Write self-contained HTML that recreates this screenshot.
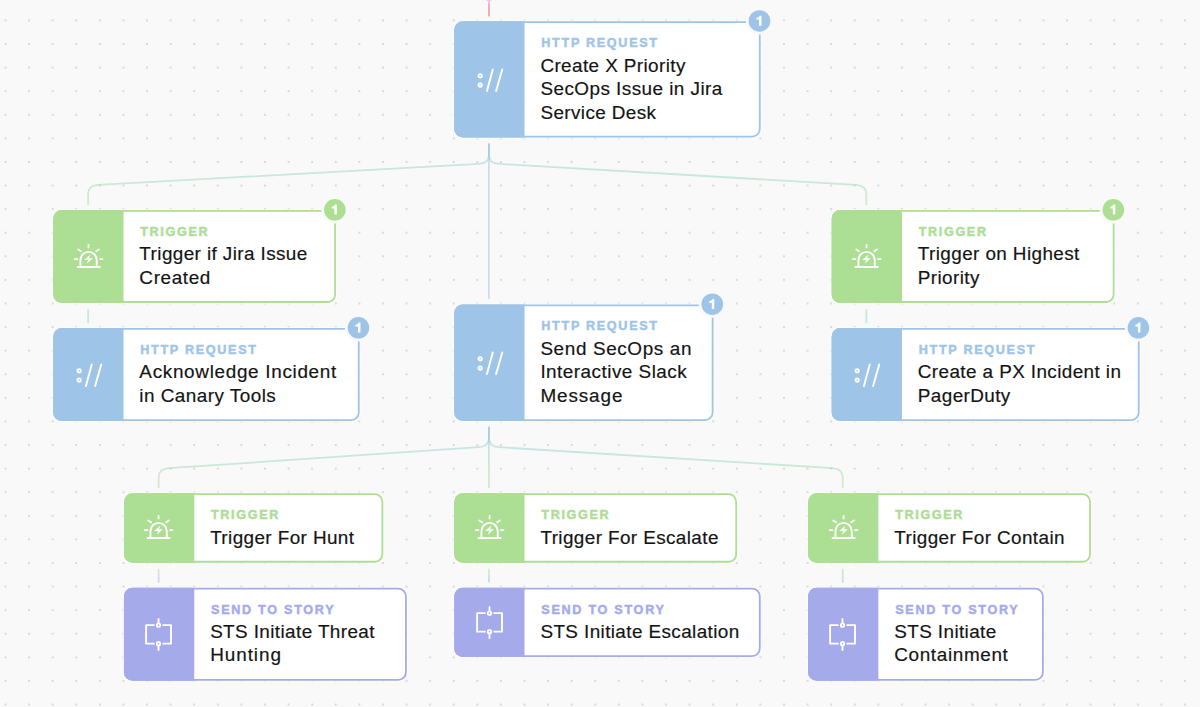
<!DOCTYPE html>
<html><head><meta charset="utf-8"><title>Story</title><style>

*{margin:0;padding:0;box-sizing:border-box}
html,body{width:1200px;height:707px;overflow:hidden;background:#f9f9f9;font-family:"Liberation Sans",sans-serif}
#bg,#wires,#shapes{position:absolute;left:0;top:0;width:1200px;height:707px}
.n{position:absolute;border:2px solid transparent;}
.n .blk{position:absolute;left:-2px;top:-2px;bottom:-2px;width:70.3px;}
.n .ic{position:absolute;left:50%;top:50%;margin-left:-14.6px;margin-top:-14.55px} .sts .ic{margin-left:-14.85px;margin-top:-16.85px}
.n .lb{position:absolute;left:85.1px;top:13.2px;font-size:12.6px;line-height:15px;font-weight:bold;letter-spacing:1.65px;white-space:nowrap;-webkit-text-stroke:0.45px}
.n .tt{position:absolute;left:84.2px;top:30.5px;font-size:18.9px;line-height:23.59px;color:#141414;white-space:nowrap;letter-spacing:0.4px;-webkit-text-stroke:0.18px}
.http .lb{color:#9ec4e8}
.trig .lb{color:#acde93}
.sts .lb{color:#a5abea;letter-spacing:1.72px} .http .lb{letter-spacing:1.7px}

</style></head><body>
<svg id="bg" width="1200" height="707" viewBox="0 0 1200 707"><defs><pattern id="dots" x="-6.295" y="8.605" width="23.59" height="23.59" patternUnits="userSpaceOnUse"><circle cx="11.795" cy="11.795" r="1.08" fill="#d1d1d1"/></pattern></defs><rect width="1200" height="707" fill="#f9f9f9"/><rect width="1200" height="707" fill="url(#dots)"/></svg>
<svg id="wires" width="1200" height="707" viewBox="0 0 1200 707"><defs><linearGradient id="g1" gradientUnits="userSpaceOnUse" x1="0" y1="143.4" x2="0" y2="205.1"><stop offset="0" stop-color="#9ec4e8"/><stop offset="0.5" stop-color="#96d6c0"/><stop offset="1" stop-color="#acde93"/></linearGradient><linearGradient id="g2" gradientUnits="userSpaceOnUse" x1="0" y1="143.4" x2="0" y2="205.1"><stop offset="0" stop-color="#9ec4e8"/><stop offset="0.5" stop-color="#96d6c0"/><stop offset="1" stop-color="#acde93"/></linearGradient><linearGradient id="g3" gradientUnits="userSpaceOnUse" x1="0" y1="143.4" x2="0" y2="298.7"><stop offset="0" stop-color="#9ec4e8"/><stop offset="0.5" stop-color="#9ec4e8"/><stop offset="1" stop-color="#9ec4e8"/></linearGradient><linearGradient id="g4" gradientUnits="userSpaceOnUse" x1="0" y1="309.1" x2="0" y2="323.1"><stop offset="0" stop-color="#acde93"/><stop offset="0.5" stop-color="#96d6c0"/><stop offset="1" stop-color="#9ec4e8"/></linearGradient><linearGradient id="g5" gradientUnits="userSpaceOnUse" x1="0" y1="309.1" x2="0" y2="323.1"><stop offset="0" stop-color="#acde93"/><stop offset="0.5" stop-color="#96d6c0"/><stop offset="1" stop-color="#9ec4e8"/></linearGradient><linearGradient id="g6" gradientUnits="userSpaceOnUse" x1="0" y1="426.8" x2="0" y2="488.1"><stop offset="0" stop-color="#9ec4e8"/><stop offset="0.5" stop-color="#96d6c0"/><stop offset="1" stop-color="#acde93"/></linearGradient><linearGradient id="g7" gradientUnits="userSpaceOnUse" x1="0" y1="426.8" x2="0" y2="488.1"><stop offset="0" stop-color="#9ec4e8"/><stop offset="0.5" stop-color="#96d6c0"/><stop offset="1" stop-color="#acde93"/></linearGradient><linearGradient id="g8" gradientUnits="userSpaceOnUse" x1="0" y1="426.8" x2="0" y2="488.1"><stop offset="0" stop-color="#9ec4e8"/><stop offset="0.5" stop-color="#96d6c0"/><stop offset="1" stop-color="#acde93"/></linearGradient><linearGradient id="g9" gradientUnits="userSpaceOnUse" x1="0" y1="568.8" x2="0" y2="582.6"><stop offset="0" stop-color="#acde93"/><stop offset="0.5" stop-color="#a2d2b6"/><stop offset="1" stop-color="#a5abea"/></linearGradient><linearGradient id="g10" gradientUnits="userSpaceOnUse" x1="0" y1="568.8" x2="0" y2="582.6"><stop offset="0" stop-color="#acde93"/><stop offset="0.5" stop-color="#a2d2b6"/><stop offset="1" stop-color="#a5abea"/></linearGradient><linearGradient id="g11" gradientUnits="userSpaceOnUse" x1="0" y1="568.8" x2="0" y2="582.6"><stop offset="0" stop-color="#acde93"/><stop offset="0.5" stop-color="#a2d2b6"/><stop offset="1" stop-color="#a5abea"/></linearGradient><linearGradient id="g12" gradientUnits="userSpaceOnUse" x1="0" y1="0" x2="0" y2="16.6"><stop offset="0" stop-color="#eea3d5"/><stop offset="0.5" stop-color="#e49eaa"/><stop offset="1" stop-color="#eb9e94"/></linearGradient></defs><g fill="none" stroke-width="1.8" stroke-linecap="butt" opacity="1" stroke-opacity="0.5"><path d="M488.9 143.4 V154.7 Q488.9 163.4 478.9 163.9 L98.1 184.9 Q88.1 185.5 88.1 194.4 V205.1" stroke="url(#g1)"/><path d="M488.9 143.4 V154.7 Q488.9 163.4 498.9 163.9 L856.3 184.9 Q866.3 185.5 866.3 194.4 V205.1" stroke="url(#g2)"/><path d="M488.9 143.4 V298.7" stroke="url(#g3)"/><path d="M88.1 309.1 V323.1" stroke="url(#g4)"/><path d="M866.3 309.1 V323.1" stroke="url(#g5)"/><path d="M488.9 426.8 V437.9 Q488.9 446.5 478.9 447.2 L168.6 468.2 Q158.6 468.8 158.6 477.7 V488.1" stroke="url(#g6)"/><path d="M488.9 426.8 V437.9 Q488.9 446.5 498.9 447.2 L832.7 468.2 Q842.7 468.8 842.7 477.7 V488.1" stroke="url(#g7)"/><path d="M488.9 426.8 V488.1" stroke="url(#g8)"/><path d="M158.6 568.8 V582.6" stroke="url(#g9)"/><path d="M488.9 568.8 V582.6" stroke="url(#g10)"/><path d="M842.7 568.8 V582.6" stroke="url(#g11)"/></g><path d="M489 0 V16.6" stroke="url(#g12)" stroke-width="2" stroke-opacity="0.8" fill="none"/><path d="M485.8 0 Q488.6 1.2 489 4 Q489.4 1.2 492.2 0 Z" fill="#f8c4f0" opacity="1"/></svg>
<svg id="shapes" width="1200" height="707" viewBox="0 0 1200 707"><rect x="453.21" y="20.20" width="308.47" height="118.40" rx="9.5" fill="#fff" opacity="0.7"/><rect x="455.11" y="22.10" width="304.67" height="114.60" rx="7.6" fill="#fff" stroke="#9ec4e8" stroke-width="1.8"/><circle cx="759.48" cy="20.95" r="13.6" fill="#f9f9f9"/><circle cx="759.48" cy="20.95" r="10.8" fill="#9ec4e8"/><path transform="translate(748.68 10.15)" d="M12.8 5.6 H10.9 C10.6 6.9 9.5 7.6 7.8 7.7 V9.4 H10.3 V15.6 H12.8 Z" fill="#fff"/><path d="M524.51 21.20 H462.71 A8.5 8.5 0 0 0 454.21 29.70 V129.10 A8.5 8.5 0 0 0 462.71 137.60 H524.51 Z" fill="#9ec4e8"/><rect x="52.18" y="209.04" width="284.88" height="94.86" rx="9.5" fill="#fff" opacity="0.7"/><rect x="54.08" y="210.94" width="281.08" height="91.06" rx="7.6" fill="#fff" stroke="#acde93" stroke-width="1.8"/><circle cx="334.86" cy="209.79" r="13.6" fill="#f9f9f9"/><circle cx="334.86" cy="209.79" r="10.8" fill="#acde93"/><path transform="translate(324.06 198.99)" d="M12.8 5.6 H10.9 C10.6 6.9 9.5 7.6 7.8 7.7 V9.4 H10.3 V15.6 H12.8 Z" fill="#fff"/><path d="M123.48 210.04 H61.68 A8.5 8.5 0 0 0 53.18 218.54 V294.40 A8.5 8.5 0 0 0 61.68 302.90 H123.48 Z" fill="#acde93"/><rect x="52.18" y="327.06" width="308.47" height="94.90" rx="9.5" fill="#fff" opacity="0.7"/><rect x="54.08" y="328.96" width="304.67" height="91.10" rx="7.6" fill="#fff" stroke="#9ec4e8" stroke-width="1.8"/><circle cx="358.45" cy="327.81" r="13.6" fill="#f9f9f9"/><circle cx="358.45" cy="327.81" r="10.8" fill="#9ec4e8"/><path transform="translate(347.65 317.01)" d="M12.8 5.6 H10.9 C10.6 6.9 9.5 7.6 7.8 7.7 V9.4 H10.3 V15.6 H12.8 Z" fill="#fff"/><path d="M123.48 328.06 H61.68 A8.5 8.5 0 0 0 53.18 336.56 V412.47 A8.5 8.5 0 0 0 61.68 420.97 H123.48 Z" fill="#9ec4e8"/><rect x="453.21" y="303.46" width="261.29" height="118.51" rx="9.5" fill="#fff" opacity="0.7"/><rect x="455.11" y="305.36" width="257.49" height="114.71" rx="7.6" fill="#fff" stroke="#9ec4e8" stroke-width="1.8"/><circle cx="712.30" cy="304.21" r="13.6" fill="#f9f9f9"/><circle cx="712.30" cy="304.21" r="10.8" fill="#9ec4e8"/><path transform="translate(701.50 293.41)" d="M12.8 5.6 H10.9 C10.6 6.9 9.5 7.6 7.8 7.7 V9.4 H10.3 V15.6 H12.8 Z" fill="#fff"/><path d="M524.51 304.46 H462.71 A8.5 8.5 0 0 0 454.21 312.96 V412.47 A8.5 8.5 0 0 0 462.71 420.97 H524.51 Z" fill="#9ec4e8"/><rect x="830.65" y="209.04" width="284.88" height="94.86" rx="9.5" fill="#fff" opacity="0.7"/><rect x="832.55" y="210.94" width="281.08" height="91.06" rx="7.6" fill="#fff" stroke="#acde93" stroke-width="1.8"/><circle cx="1113.33" cy="209.79" r="13.6" fill="#f9f9f9"/><circle cx="1113.33" cy="209.79" r="10.8" fill="#acde93"/><path transform="translate(1102.53 198.99)" d="M12.8 5.6 H10.9 C10.6 6.9 9.5 7.6 7.8 7.7 V9.4 H10.3 V15.6 H12.8 Z" fill="#fff"/><path d="M901.95 210.04 H840.15 A8.5 8.5 0 0 0 831.65 218.54 V294.40 A8.5 8.5 0 0 0 840.15 302.90 H901.95 Z" fill="#acde93"/><rect x="830.65" y="327.06" width="309.97" height="94.90" rx="9.5" fill="#fff" opacity="0.7"/><rect x="832.55" y="328.96" width="306.17" height="91.10" rx="7.6" fill="#fff" stroke="#9ec4e8" stroke-width="1.8"/><circle cx="1138.42" cy="327.81" r="13.6" fill="#f9f9f9"/><circle cx="1138.42" cy="327.81" r="10.8" fill="#9ec4e8"/><path transform="translate(1127.62 317.01)" d="M12.8 5.6 H10.9 C10.6 6.9 9.5 7.6 7.8 7.7 V9.4 H10.3 V15.6 H12.8 Z" fill="#fff"/><path d="M901.95 328.06 H840.15 A8.5 8.5 0 0 0 831.65 336.56 V412.47 A8.5 8.5 0 0 0 840.15 420.97 H901.95 Z" fill="#9ec4e8"/><rect x="122.95" y="492.30" width="261.29" height="71.35" rx="9.5" fill="#fff" opacity="0.7"/><rect x="124.85" y="494.20" width="257.49" height="67.55" rx="7.6" fill="#fff" stroke="#acde93" stroke-width="1.8"/><path d="M194.25 493.30 H132.45 A8.5 8.5 0 0 0 123.95 501.80 V554.15 A8.5 8.5 0 0 0 132.45 562.65 H194.25 Z" fill="#acde93"/><rect x="453.21" y="492.30" width="284.88" height="71.35" rx="9.5" fill="#fff" opacity="0.7"/><rect x="455.11" y="494.20" width="281.08" height="67.55" rx="7.6" fill="#fff" stroke="#acde93" stroke-width="1.8"/><path d="M524.51 493.30 H462.71 A8.5 8.5 0 0 0 454.21 501.80 V554.15 A8.5 8.5 0 0 0 462.71 562.65 H524.51 Z" fill="#acde93"/><rect x="807.06" y="492.30" width="284.88" height="71.35" rx="9.5" fill="#fff" opacity="0.7"/><rect x="808.96" y="494.20" width="281.08" height="67.55" rx="7.6" fill="#fff" stroke="#acde93" stroke-width="1.8"/><path d="M878.36 493.30 H816.56 A8.5 8.5 0 0 0 808.06 501.80 V554.15 A8.5 8.5 0 0 0 816.56 562.65 H878.36 Z" fill="#acde93"/><rect x="122.95" y="586.72" width="284.88" height="95.00" rx="9.5" fill="#fff" opacity="0.7"/><rect x="124.85" y="588.62" width="281.08" height="91.20" rx="7.6" fill="#fff" stroke="#a5abea" stroke-width="1.8"/><path d="M194.25 587.72 H132.45 A8.5 8.5 0 0 0 123.95 596.22 V672.22 A8.5 8.5 0 0 0 132.45 680.72 H194.25 Z" fill="#a5abea"/><rect x="453.21" y="586.72" width="308.47" height="71.39" rx="9.5" fill="#fff" opacity="0.7"/><rect x="455.11" y="588.62" width="304.67" height="67.59" rx="7.6" fill="#fff" stroke="#a5abea" stroke-width="1.8"/><path d="M524.51 587.72 H462.71 A8.5 8.5 0 0 0 454.21 596.22 V648.61 A8.5 8.5 0 0 0 462.71 657.11 H524.51 Z" fill="#a5abea"/><rect x="807.06" y="586.72" width="237.70" height="95.00" rx="9.5" fill="#fff" opacity="0.7"/><rect x="808.96" y="588.62" width="233.90" height="91.20" rx="7.6" fill="#fff" stroke="#a5abea" stroke-width="1.8"/><path d="M878.36 587.72 H816.56 A8.5 8.5 0 0 0 808.06 596.22 V672.22 A8.5 8.5 0 0 0 816.56 680.72 H878.36 Z" fill="#a5abea"/></svg>
<div class="n http" style="left:454.21px;top:21.20px;width:306.47px;height:116.35px"><div class="blk"><svg class="ic" viewBox="0 0 30 30" width="30" height="30"><g fill="none" stroke="#fff" stroke-linecap="round"><circle cx="5.15" cy="10.8" r="1.7" stroke-width="1.8"/><circle cx="5.15" cy="20.05" r="1.7" stroke-width="1.8"/><path d="M11.95 26 L17.75 4.4 M21.1 26 L27.25 4.4" stroke-width="1.95"/></g></svg></div><div class="lb">HTTP REQUEST</div><div class="tt">Create X Priority<br><span style="letter-spacing:0.46px">SecOps Issue in Jira</span><br>Service Desk</div></div>
<div class="n trig" style="left:53.18px;top:209.92px;width:282.88px;height:92.76px"><div class="blk"><svg class="ic" viewBox="0 0 30 30" width="30" height="30"><g fill="none" stroke="#fff" stroke-width="1.9" stroke-linecap="round" stroke-linejoin="round"><path d="M3.5 25 H25.7"/><path d="M6.45 25 V18.05 A8.15 8.15 0 0 1 22.75 18.05 V25"/><path d="M14.55 3 V5.4 M4.3 7.5 L7 9.2 M24.8 7.4 L22.3 9.2 M0.7 17.1 H3.4 M26.1 17.1 H28.5"/></g><path d="M16.5 12.5 L10.2 17.95 H14.3 L12.7 21.7 L18.9 16.25 H14.9 Z" fill="#fff"/></svg></div><div class="lb">TRIGGER</div><div class="tt">Trigger if Jira Issue<br><span style="letter-spacing:0.63px">Created</span></div></div>
<div class="n http" style="left:53.18px;top:327.87px;width:306.47px;height:92.76px"><div class="blk"><svg class="ic" viewBox="0 0 30 30" width="30" height="30"><g fill="none" stroke="#fff" stroke-linecap="round"><circle cx="5.15" cy="10.8" r="1.7" stroke-width="1.8"/><circle cx="5.15" cy="20.05" r="1.7" stroke-width="1.8"/><path d="M11.95 26 L17.75 4.4 M21.1 26 L27.25 4.4" stroke-width="1.95"/></g></svg></div><div class="lb">HTTP REQUEST</div><div class="tt"><span style="letter-spacing:0.69px">Acknowledge Incident</span><br><span style="letter-spacing:0.47px">in Canary Tools</span></div></div>
<div class="n http" style="left:454.21px;top:304.28px;width:259.29px;height:116.35px"><div class="blk"><svg class="ic" viewBox="0 0 30 30" width="30" height="30"><g fill="none" stroke="#fff" stroke-linecap="round"><circle cx="5.15" cy="10.8" r="1.7" stroke-width="1.8"/><circle cx="5.15" cy="20.05" r="1.7" stroke-width="1.8"/><path d="M11.95 26 L17.75 4.4 M21.1 26 L27.25 4.4" stroke-width="1.95"/></g></svg></div><div class="lb">HTTP REQUEST</div><div class="tt"><span style="letter-spacing:0.63px">Send SecOps an</span><br><span style="letter-spacing:0.48px">Interactive Slack</span><br><span style="letter-spacing:0.9px">Message</span></div></div>
<div class="n trig" style="left:831.65px;top:209.92px;width:282.88px;height:92.76px"><div class="blk"><svg class="ic" viewBox="0 0 30 30" width="30" height="30"><g fill="none" stroke="#fff" stroke-width="1.9" stroke-linecap="round" stroke-linejoin="round"><path d="M3.5 25 H25.7"/><path d="M6.45 25 V18.05 A8.15 8.15 0 0 1 22.75 18.05 V25"/><path d="M14.55 3 V5.4 M4.3 7.5 L7 9.2 M24.8 7.4 L22.3 9.2 M0.7 17.1 H3.4 M26.1 17.1 H28.5"/></g><path d="M16.5 12.5 L10.2 17.95 H14.3 L12.7 21.7 L18.9 16.25 H14.9 Z" fill="#fff"/></svg></div><div class="lb">TRIGGER</div><div class="tt">Trigger on Highest<br>Priority</div></div>
<div class="n http" style="left:831.65px;top:327.87px;width:306.47px;height:92.76px"><div class="blk"><svg class="ic" viewBox="0 0 30 30" width="30" height="30"><g fill="none" stroke="#fff" stroke-linecap="round"><circle cx="5.15" cy="10.8" r="1.7" stroke-width="1.8"/><circle cx="5.15" cy="20.05" r="1.7" stroke-width="1.8"/><path d="M11.95 26 L17.75 4.4 M21.1 26 L27.25 4.4" stroke-width="1.95"/></g></svg></div><div class="lb">HTTP REQUEST</div><div class="tt">Create a PX Incident in<br>PagerDuty</div></div>
<div class="n trig" style="left:123.95px;top:493.00px;width:259.29px;height:69.17px"><div class="blk"><svg class="ic" viewBox="0 0 30 30" width="30" height="30"><g fill="none" stroke="#fff" stroke-width="1.9" stroke-linecap="round" stroke-linejoin="round"><path d="M3.5 25 H25.7"/><path d="M6.45 25 V18.05 A8.15 8.15 0 0 1 22.75 18.05 V25"/><path d="M14.55 3 V5.4 M4.3 7.5 L7 9.2 M24.8 7.4 L22.3 9.2 M0.7 17.1 H3.4 M26.1 17.1 H28.5"/></g><path d="M16.5 12.5 L10.2 17.95 H14.3 L12.7 21.7 L18.9 16.25 H14.9 Z" fill="#fff"/></svg></div><div class="lb">TRIGGER</div><div class="tt">Trigger For Hunt</div></div>
<div class="n trig" style="left:454.21px;top:493.00px;width:282.88px;height:69.17px"><div class="blk"><svg class="ic" viewBox="0 0 30 30" width="30" height="30"><g fill="none" stroke="#fff" stroke-width="1.9" stroke-linecap="round" stroke-linejoin="round"><path d="M3.5 25 H25.7"/><path d="M6.45 25 V18.05 A8.15 8.15 0 0 1 22.75 18.05 V25"/><path d="M14.55 3 V5.4 M4.3 7.5 L7 9.2 M24.8 7.4 L22.3 9.2 M0.7 17.1 H3.4 M26.1 17.1 H28.5"/></g><path d="M16.5 12.5 L10.2 17.95 H14.3 L12.7 21.7 L18.9 16.25 H14.9 Z" fill="#fff"/></svg></div><div class="lb">TRIGGER</div><div class="tt">Trigger For Escalate</div></div>
<div class="n trig" style="left:808.06px;top:493.00px;width:282.88px;height:69.17px"><div class="blk"><svg class="ic" viewBox="0 0 30 30" width="30" height="30"><g fill="none" stroke="#fff" stroke-width="1.9" stroke-linecap="round" stroke-linejoin="round"><path d="M3.5 25 H25.7"/><path d="M6.45 25 V18.05 A8.15 8.15 0 0 1 22.75 18.05 V25"/><path d="M14.55 3 V5.4 M4.3 7.5 L7 9.2 M24.8 7.4 L22.3 9.2 M0.7 17.1 H3.4 M26.1 17.1 H28.5"/></g><path d="M16.5 12.5 L10.2 17.95 H14.3 L12.7 21.7 L18.9 16.25 H14.9 Z" fill="#fff"/></svg></div><div class="lb">TRIGGER</div><div class="tt">Trigger For Contain</div></div>
<div class="n sts" style="left:123.95px;top:587.36px;width:282.88px;height:92.76px"><div class="blk"><svg class="ic" viewBox="0 0 30 34" width="30" height="34"><g fill="none" stroke="#fff" stroke-width="1.9" stroke-linecap="round" stroke-linejoin="round"><path d="M9.9 8.15 H2.1 V26.65 H9.9 M19.2 8.15 H27 V26.65 H19.2"/><circle cx="14.5" cy="8.15" r="1.7" stroke-width="1.8"/><circle cx="14.5" cy="26.65" r="1.7" stroke-width="1.8"/><path d="M14.5 2 V5.4 M14.5 29.4 V33"/></g></svg></div><div class="lb">SEND TO STORY</div><div class="tt">STS Initiate Threat<br><span style="letter-spacing:0.95px">Hunting</span></div></div>
<div class="n sts" style="left:454.21px;top:587.36px;width:306.47px;height:69.17px"><div class="blk"><svg class="ic" viewBox="0 0 30 34" width="30" height="34"><g fill="none" stroke="#fff" stroke-width="1.9" stroke-linecap="round" stroke-linejoin="round"><path d="M9.9 8.15 H2.1 V26.65 H9.9 M19.2 8.15 H27 V26.65 H19.2"/><circle cx="14.5" cy="8.15" r="1.7" stroke-width="1.8"/><circle cx="14.5" cy="26.65" r="1.7" stroke-width="1.8"/><path d="M14.5 2 V5.4 M14.5 29.4 V33"/></g></svg></div><div class="lb">SEND TO STORY</div><div class="tt">STS Initiate Escalation</div></div>
<div class="n sts" style="left:808.06px;top:587.36px;width:235.70px;height:92.76px"><div class="blk"><svg class="ic" viewBox="0 0 30 34" width="30" height="34"><g fill="none" stroke="#fff" stroke-width="1.9" stroke-linecap="round" stroke-linejoin="round"><path d="M9.9 8.15 H2.1 V26.65 H9.9 M19.2 8.15 H27 V26.65 H19.2"/><circle cx="14.5" cy="8.15" r="1.7" stroke-width="1.8"/><circle cx="14.5" cy="26.65" r="1.7" stroke-width="1.8"/><path d="M14.5 2 V5.4 M14.5 29.4 V33"/></g></svg></div><div class="lb">SEND TO STORY</div><div class="tt">STS Initiate<br><span style="letter-spacing:0.65px">Containment</span></div></div>
</body></html>
